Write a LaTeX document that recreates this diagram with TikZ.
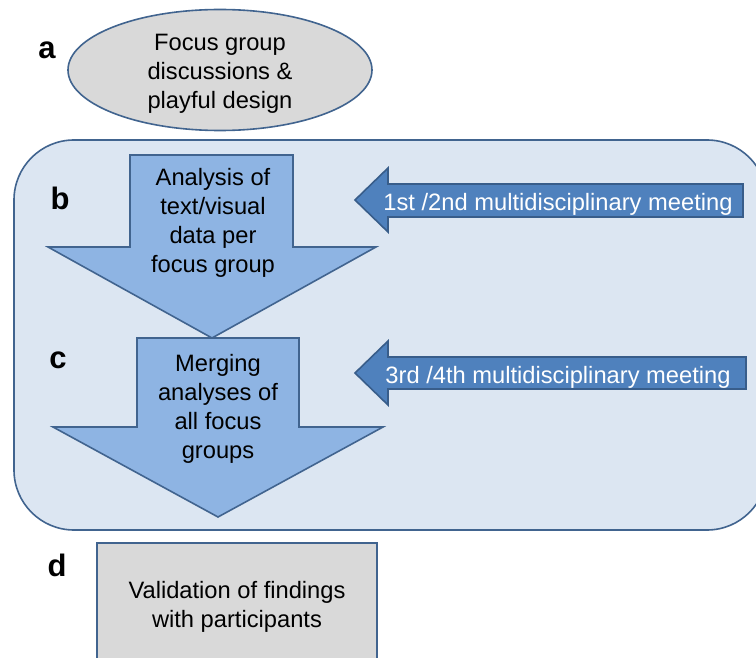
\documentclass[tikz,border=0pt]{standalone}
\usepackage{fontspec}
\setmainfont{Liberation Sans}
\usetikzlibrary{shapes.geometric}
\definecolor{edgeblue}{HTML}{41648F}
\definecolor{panelfill}{HTML}{DCE6F2}
\definecolor{downfill}{HTML}{8EB4E3}
\definecolor{leftfill}{HTML}{4F81BD}
\definecolor{leftedge}{HTML}{385D8A}
\definecolor{grayfill}{HTML}{D9D9D9}
\tikzset{
  txt/.style={font=\fontsize{23.7}{28.8}\selectfont, align=center, inner sep=0},
  wtxt/.style={txt, text=white},
  lbl/.style={font=\fontsize{31}{36}\selectfont\bfseries, inner sep=0},
  shapeline/.style={draw=edgeblue, line width=1.6pt, line join=miter},
  downarrow/.style={shapeline, fill=downfill},
  leftarrow/.style={draw=leftedge, line width=1.6pt, fill=leftfill},
}
\begin{document}
\begin{tikzpicture}[x=1pt,y=-1pt]
\useasboundingbox (0,0) rectangle (756,658);
% panel
\draw[shapeline, fill=panelfill, rounded corners=60pt] (14,140) rectangle (767,530);
% ellipse a
\node[ellipse, shapeline, fill=grayfill, minimum width=304, minimum height=121, inner sep=0] (ea) at (220,70) {};
\node[txt] (ta) at (220,74) {Focus group\\discussions \&\\playful design};
% arrow b
\draw[downarrow] (130,155) -- (293,155) -- (293,247) -- (376,247) -- (212,338) -- (48,247) -- (130,247) -- cycle;
\node[txt] (tb) at (213,223) {Analysis of\\text/visual\\data per\\focus group};
% arrow c
\draw[downarrow] (137,338) -- (299,338) -- (299,427) -- (383,427) -- (218,517) -- (53,427) -- (137,427) -- cycle;
\node[txt] (tc) at (218,409) {Merging\\analyses of\\all focus\\groups};
% left arrows
\draw[leftarrow] (355,200) -- (388,168) -- (388,184) -- (743,184) -- (743,217) -- (388,217) -- (388,232) -- cycle;
\node[wtxt] (m1) at (558,204) {1st /2nd multidisciplinary meeting};
\draw[leftarrow] (355,373) -- (388,341) -- (388,357) -- (746,357) -- (746,389) -- (388,389) -- (388,405) -- cycle;
\node[wtxt] (m2) at (558,377) {3rd /4th multidisciplinary meeting};
% box d
\draw[shapeline, fill=grayfill] (97,543) rectangle (377,690);
\node[txt] (td) at (237,607) {Validation of findings\\with participants};
% labels
\node[lbl] (la) at (47,50) {a};
\node[lbl] (lb) at (60,198) {b};
\node[lbl] (lc) at (58,360) {c};
\node[lbl] (ld) at (57,565) {d};
\end{tikzpicture}
\end{document}
